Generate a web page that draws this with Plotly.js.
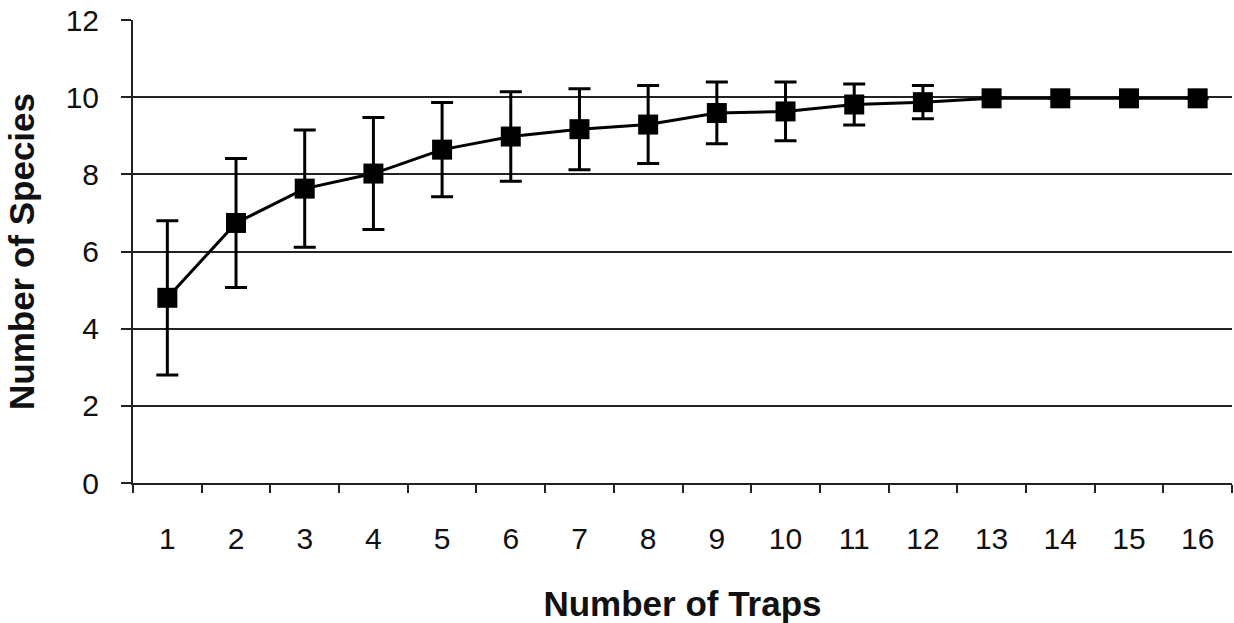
<!DOCTYPE html>
<html>
<head>
<meta charset="utf-8">
<script src="https://cdn.plot.ly/plotly-3.0.1.min.js"></script>
<style>html,body{margin:0;padding:0;background:#fff;}#chart{width:1234px;height:623px;}</style>
</head>
<body>
<div id="chart"></div>
<script>
const traps = ["1","2","3","4","5","6","7","8","9","10","11","12","13","14","15","16"];
const species = [4.8, 6.74, 7.63, 8.02, 8.64, 8.98, 9.17, 9.29, 9.59, 9.63, 9.81, 9.87, 9.97, 9.97, 9.97, 9.97];
const errors = [2.0, 1.67, 1.52, 1.45, 1.22, 1.16, 1.05, 1.01, 0.8, 0.76, 0.53, 0.43, 0, 0, 0, 0];
const xTitle = "Number of Traps";
const yTitle = "Number of Species";

const fontFam = "Liberation Sans, Arial, sans-serif";

const trace = {
  x: traps,
  y: species,
  type: "scatter",
  mode: "lines+markers",
  line: {color: "#000", width: 3},
  marker: {symbol: "square", size: 20, color: "#000"},
  error_y: {type: "data", array: errors, visible: true, color: "#000", thickness: 3, width: 11},
  hoverinfo: "skip"
};

const layout = {
  width: 1234, height: 623,
  margin: {l: 133, r: 2, t: 20, b: 140},
  paper_bgcolor: "#fff", plot_bgcolor: "#fff",
  showlegend: false,
  font: {family: fontFam, color: "#111"},
  xaxis: {
    type: "category",
    range: [-0.5, 15.5],
    showline: true, linecolor: "#222", linewidth: 2,
    showgrid: false, zeroline: false,
    ticks: "outside", tickson: "boundaries", ticklen: 8, tickwidth: 2, tickcolor: "#222",
    tickfont: {size: 30, family: fontFam, color: "#111"},
    ticklabelstandoff: 28,
    title: {text: xTitle, font: {size: 35, family: fontFam, color: "#111", weight: "bold"}, standoff: 37},
    fixedrange: true
  },
  yaxis: {
    range: [0, 12], dtick: 2, tick0: 0,
    showline: true, linecolor: "#222", linewidth: 2,
    showgrid: true, gridcolor: "#222", gridwidth: 2,
    zeroline: false,
    ticks: "outside", ticklen: 10, tickwidth: 2, tickcolor: "#222",
    tickfont: {size: 30, family: fontFam, color: "#111"},
    ticklabelstandoff: 16,
    title: {text: yTitle, font: {size: 35, family: fontFam, color: "#111", weight: "bold"}, standoff: 20},
    fixedrange: true
  }
};

Plotly.newPlot("chart", [trace], layout, {displayModeBar: false, staticPlot: true});
</script>
</body>
</html>
